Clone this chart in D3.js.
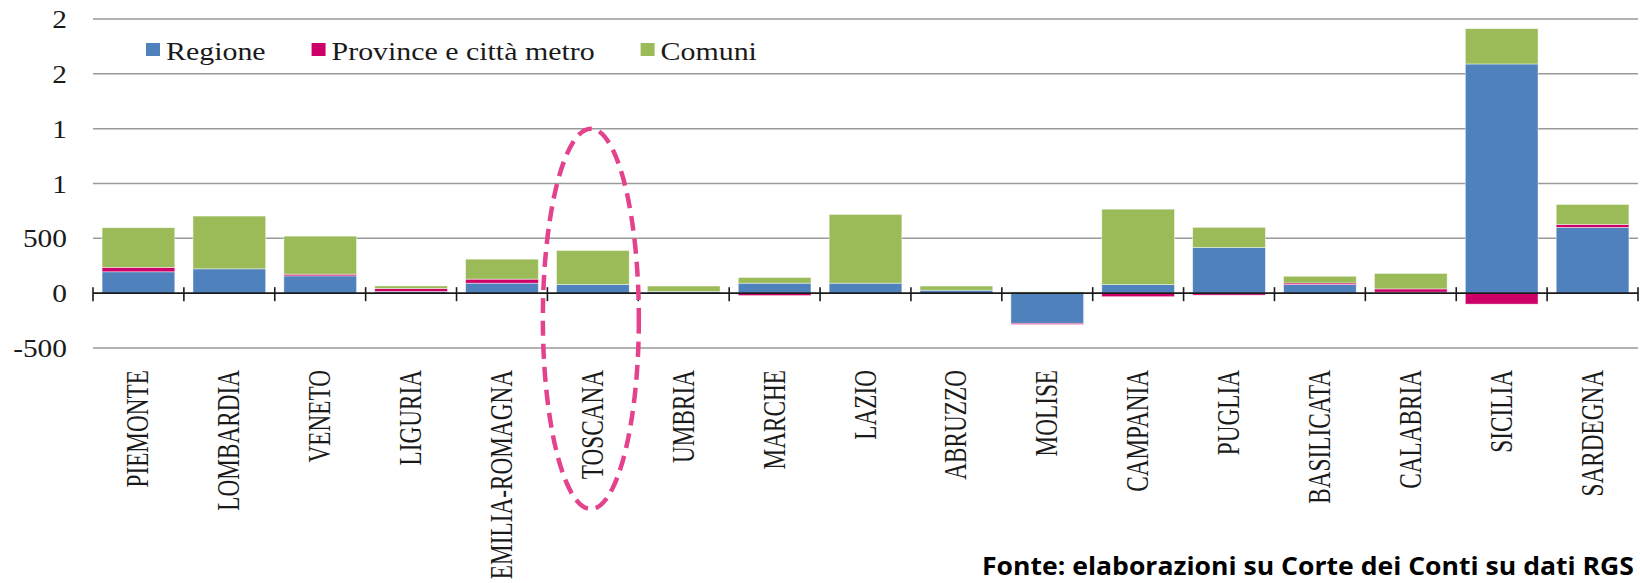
<!DOCTYPE html>
<html>
<head>
<meta charset="utf-8">
<script src="https://cdn.jsdelivr.net/npm/d3@7"></script>
<style>
  html, body { margin: 0; padding: 0; background: #fff; }
  svg { display: block; }
</style>
</head>
<body>
<svg id="chart" width="1640" height="583"></svg>
<script>
// ---- data ----
const categories = ["PIEMONTE","LOMBARDIA","VENETO","LIGURIA","EMILIA-ROMAGNA","TOSCANA","UMBRIA","MARCHE","LAZIO","ABRUZZO","MOLISE","CAMPANIA","PUGLIA","BASILICATA","CALABRIA","SICILIA","SARDEGNA"];
const regione  = [195, 222, 158, 15, 91, 79, 15, 91, 91, 27, -275, 79, 417, 79, 9, 2090, 600];
const province = [40, 0, 15, 27, 37, 0, 0, -22, 0, 0, -10, -32, -18, 14, 30, -100, 27];
const comuni   = [362, 481, 347, 24, 182, 310, 50, 52, 627, 38, 12, 687, 183, 61, 141, 322, 182];
const seriesNames = ["Regione", "Province e città metro", "Comuni"];
const tickValues = [-500, 0, 500, 1000, 1500, 2000, 2500];
const tickLabels = ["-500", "0", "500", "1", "1", "2", "2"];
const highlighted = "TOSCANA";
const sourceNote = "Fonte: elaborazioni su Corte dei Conti su dati RGS";

const colors = ["#4F81BD", "#CC0066", "#9BBB59"];

(function () {
// ---- layout ----
const svg = d3.select("#chart");
const plotL = 93, plotR = 1638;
const x = d3.scaleBand().domain(categories).range([plotL, plotR]).paddingInner(0.2).paddingOuter(0.1);
const y = d3.scaleLinear().domain([-500, 2500]).range([348, 19]);

const rows = categories.map((c, i) => ({cat: c, s0: regione[i], s1: province[i], s2: comuni[i]}));
const stack = d3.stack().keys(["s0","s1","s2"]).offset(d3.stackOffsetDiverging);
const layers = stack(rows);

// gridlines
const gridVals = tickValues.filter(v => v !== 0);
svg.append("g").selectAll("line").data(gridVals).join("line")
  .attr("x1", plotL).attr("x2", plotR)
  .attr("y1", d => y(d)).attr("y2", d => y(d))
  .attr("stroke", "#9a9a9a").attr("stroke-width", 1.5);

// y labels
const yl = svg.append("g");
tickValues.forEach((v, i) => {
  yl.append("text")
    .attr("transform", `translate(67,${y(v)}) scale(1.13,1)`)
    .attr("dy", "0.35em")
    .attr("text-anchor", "end")
    .attr("font-family", "Liberation Serif, Times New Roman, serif")
    .attr("font-size", 26)
    .attr("fill", "#1a1a1a")
    .text(tickLabels[i]);
});

// bars
svg.append("g").selectAll("g").data(layers).join("g")
  .attr("fill", (d, i) => colors[i])
  .selectAll("rect").data(d => d).join("rect")
  .attr("x", d => x(d.data.cat))
  .attr("width", x.bandwidth())
  .attr("y", d => y(Math.max(d[0], d[1])))
  .attr("height", d => Math.abs(y(d[0]) - y(d[1])))
  .attr("stroke", "rgba(255,255,255,0.55)")
  .attr("stroke-width", 0.8);

// zero axis
svg.append("line")
  .attr("x1", plotL).attr("x2", plotR)
  .attr("y1", y(0)).attr("y2", y(0))
  .attr("stroke", "#1a1a1a").attr("stroke-width", 1.6);
const step = x.step();
svg.append("g").selectAll("line").data(d3.range(categories.length + 1)).join("line")
  .attr("x1", i => plotL + i * step).attr("x2", i => plotL + i * step)
  .attr("y1", y(0) - 6).attr("y2", y(0) + 8)
  .attr("stroke", "#1a1a1a").attr("stroke-width", 1.6);

// x labels
svg.append("g").selectAll("text").data(categories).join("text")
  .attr("transform", d => `translate(${x(d) + x.bandwidth() / 2 + 10},370) rotate(-90) scale(0.75,1)`)
  .attr("text-anchor", "end")
  .attr("font-family", "Liberation Serif, Times New Roman, serif")
  .attr("font-size", 31)
  .attr("fill", "#1a1a1a")
  .text(d => d);

// legend
const lg = svg.append("g");
let lx = 146;
seriesNames.forEach((name, i) => {
  lg.append("rect").attr("x", lx).attr("y", 43).attr("width", 14).attr("height", 13).attr("fill", colors[i]);
  const t = lg.append("text")
    .attr("transform", `translate(${lx + 20},60) scale(1.15,1)`)
    .attr("font-family", "Liberation Serif, Times New Roman, serif")
    .attr("font-size", 26)
    .attr("fill", "#1a1a1a")
    .text(name);
  const w = t.node().getComputedTextLength() * 1.15;
  lx = lx + 20 + w + 46;
});

// highlight ellipse around TOSCANA
const ecx = x(highlighted) + x.bandwidth() / 2 - 2;
const eTop = y(1500), eBottom = y(-500) + 161;
svg.append("ellipse")
  .attr("cx", ecx).attr("cy", (eTop + eBottom) / 2)
  .attr("rx", 48).attr("ry", (eBottom - eTop) / 2)
  .attr("fill", "none")
  .attr("stroke", "#E4428C")
  .attr("stroke-width", 4.5)
  .attr("stroke-dasharray", "15,8");

// source note
svg.append("text")
  .attr("x", 1634).attr("y", 575)
  .attr("text-anchor", "end")
  .attr("font-family", "Open Sans, Noto Sans, sans-serif")
  .attr("font-weight", 700)
  .attr("font-size", 25)
  .attr("textLength", 652)
  .attr("lengthAdjust", "spacingAndGlyphs")
  .attr("fill", "#000")
  .text(sourceNote);
})();
</script>
</body>
</html>
